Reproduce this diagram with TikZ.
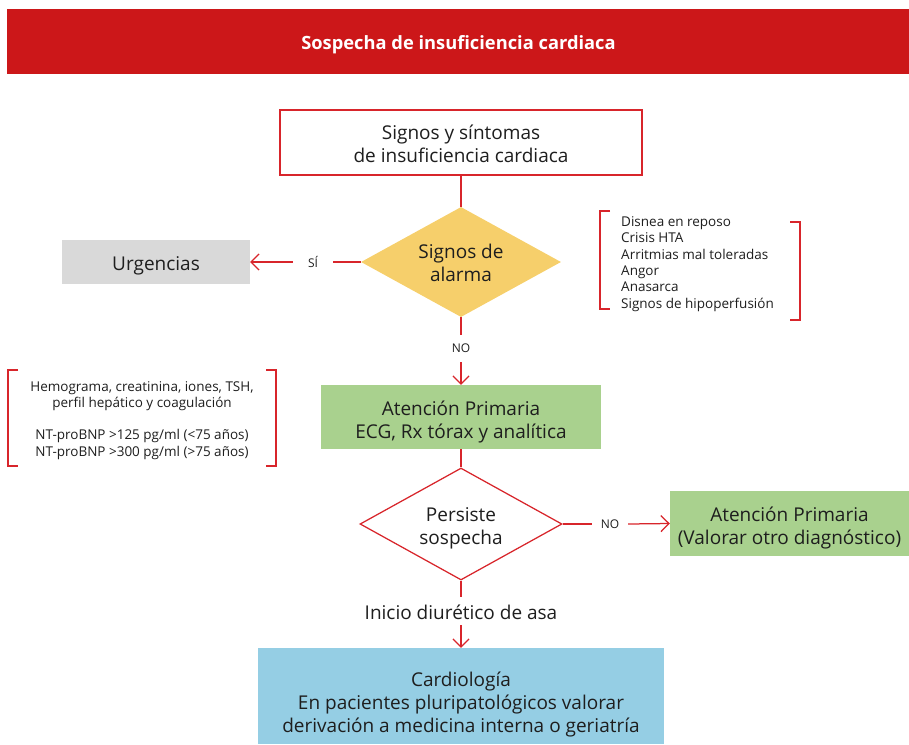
\documentclass[tikz,border=0pt]{standalone}
\usepackage{fontspec}
\setmainfont{Open Sans}
\usetikzlibrary{arrows.meta,shapes.geometric}
\definecolor{titlered}{HTML}{CC1719}
\definecolor{linered}{HTML}{D8252B}
\definecolor{alarmyellow}{HTML}{F6CF6B}
\definecolor{primgreen}{HTML}{A9D18E}
\definecolor{cardblue}{HTML}{95CEE4}
\definecolor{urggray}{HTML}{D9D9D9}
\definecolor{ink}{HTML}{1E1E1E}

% centred lines of text, lowered a little inside their shape
\newcommand\droptext[2][3pt]{\raisebox{-#1}[\height][\depth]{\begin{tabular}{@{}c@{}}#2\end{tabular}}}

\begin{document}
\begin{tikzpicture}[x=1pt,y=-1pt,
  every node/.style={text=ink},
  flow/.style={draw=linered, line width=1.25pt},
  arr/.style={flow, -{Straight Barb[length=8pt,width=16pt,line width=1.25pt]}},
  bigtext/.style={font=\fontsize{19}{23}\selectfont},
  smalltext/.style={font=\fontsize{13.5}{16.3}\selectfont},
  labeltext/.style={font=\fontsize{12}{14}\selectfont, inner sep=0pt},
  box/.style={rectangle, inner sep=0pt, bigtext},
  decision/.style={diamond, aspect=2, inner sep=0pt, bigtext},
  bracket/.style={draw=linered, line width=1.25pt}
]
\useasboundingbox (0,0) rectangle (909,744);

% title bar
\node[rectangle, fill=titlered, minimum width=903pt, minimum height=65pt,
      inner sep=0pt, text=white, font=\fontsize{18.3}{20}\selectfont\bfseries]
      (title) at (458.5,41.5) {\raisebox{-3pt}[\height][\depth]{Sospecha de insuficiencia cardiaca}};

% main flow
\node[box, draw=linered, line width=1.25pt, fill=white,
      minimum width=362pt, minimum height=65pt]
      (sintomas) at (461,142.5) {\droptext[4pt]{Signos y síntomas\\de insuficiencia cardiaca}};

\node[decision, fill=alarmyellow, minimum width=200pt, minimum height=110pt]
      (alarma) at (461,262) {\droptext[3pt]{Signos de\\alarma}};

\node[box, fill=urggray, minimum width=188pt, minimum height=44pt]
      (urgencias) at (156,262) {\droptext[4pt]{Urgencias}};

\node[box, fill=primgreen, minimum width=280pt, minimum height=64pt]
      (primaria) at (461,417) {\droptext[5pt]{Atención Primaria\\ECG, Rx tórax y analítica}};

\node[decision, draw=linered, line width=1.25pt, fill=white,
      minimum width=202pt, minimum height=112pt]
      (persiste) at (461,524) {\droptext[4pt]{Persiste\\sospecha}};

\node[box, fill=primgreen, minimum width=239pt, minimum height=65pt]
      (otro) at (789.5,523.5) {\droptext[4.5pt]{Atención Primaria\\(Valorar otro diagnóstico)}};

\node[box, fill=cardblue, minimum width=406pt, minimum height=96pt]
      (cardio) at (461,696) {\droptext[9pt]{Cardiología\\En pacientes pluripatológicos valorar\\derivación a medicina interna o geriatría}};

% connector labels
\node[labeltext, minimum width=40pt] (si) at (313,262) {SÍ};
\node[labeltext, minimum height=27pt] (no1) at (461,348.5) {NO};
\node[labeltext, minimum width=36pt] (no2) at (610,524) {NO};
\node[bigtext, inner sep=0pt, minimum height=28pt] (diuretico) at (461,611) {\droptext[4pt]{Inicio diurético de asa}};

% connectors
\draw[flow] (sintomas.south) -- (alarma.north);
\draw[flow] (alarma.west) -- (si.east);
\draw[arr] (si.west) -- (urgencias.east);
\draw[flow] (alarma.south) -- (no1.north);
\draw[arr] (no1.south) -- (primaria.north);
\draw[flow] (primaria.south) -- (persiste.north);
\draw[flow] (persiste.east) -- (no2.west);
\draw[arr] (no2.east) -- (otro.west);
\draw[flow] (persiste.south) -- (diuretico.north);
\draw[arr] (diuretico.south) -- (cardio.north);

% alarm signs list
\node[smalltext, align=left, anchor=west, inner sep=0pt] (alarmlist) at (621,264)
  {Disnea en reposo\\Crisis HTA\\Arritmias mal toleradas\\Angor\\Anasarca\\Signos de hipoperfusión};
\draw[bracket] (610,211) -- (600,211) -- (600,309) -- (610,309);
\draw[bracket] (790,222) -- (800,222) -- (800,320) -- (790,320);

% lab tests list
\node[smalltext, align=center, inner sep=0pt] (analitica) at (142,420.5)
  {Hemograma, creatinina, iones, TSH,\\perfil hepático y coagulación\\[16pt]NT-proBNP >125 pg/ml (<75 años)\\NT-proBNP >300 pg/ml (>75 años)};
\draw[bracket] (18,370) -- (8,370) -- (8,466) -- (18,466);
\draw[bracket] (266,370) -- (276,370) -- (276,466) -- (266,466);

\end{tikzpicture}
\end{document}
